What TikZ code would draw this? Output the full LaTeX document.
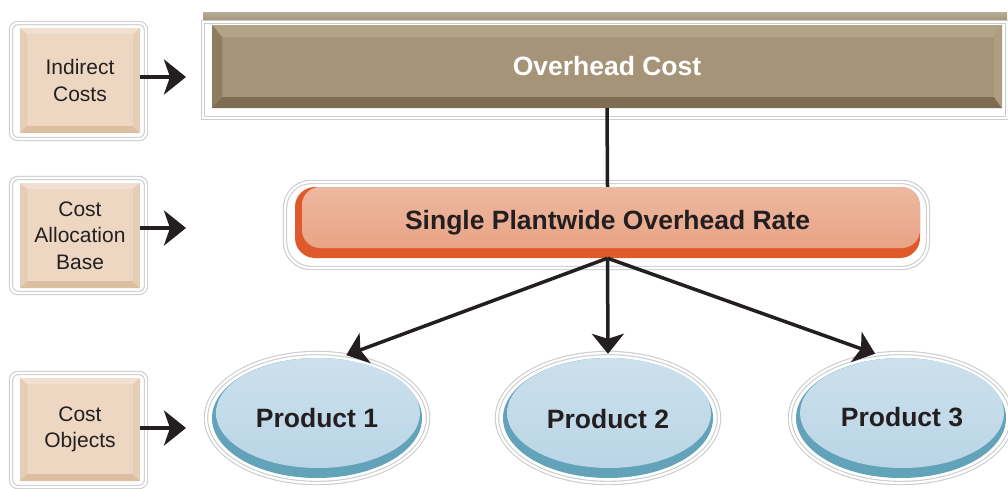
\documentclass[tikz,border=0pt]{standalone}
\usepackage{fontspec}
\setmainfont{Liberation Sans}
\usetikzlibrary{arrows.meta,shapes.geometric}
\definecolor{framegray}{HTML}{CBCCCE}
\definecolor{beigeface}{HTML}{EDD7C2}
\definecolor{beigelight}{HTML}{F1E0CF}
\definecolor{beigedark}{HTML}{DCBEA1}
\definecolor{beigeside}{HTML}{E6CDB5}
\definecolor{browntopA}{HTML}{B9AD98}
\definecolor{browntopB}{HTML}{9E8E72}
\definecolor{brownface}{HTML}{A69478}
\definecolor{brownlight}{HTML}{B2A388}
\definecolor{browndark}{HTML}{7F6D52}
\definecolor{brownleft}{HTML}{8E7C60}
\definecolor{brownright}{HTML}{AE9D81}
\definecolor{salmon}{HTML}{E8A385}
\definecolor{salmonlight}{HTML}{EDB9A0}
\definecolor{rateorange}{HTML}{E0592B}
\definecolor{bluelight}{HTML}{CCE0EC}
\definecolor{blueface}{HTML}{BAD5E6}
\definecolor{tealrim}{HTML}{62A3BA}
\definecolor{ink}{HTML}{231F20}
\tikzset{
  frame/.style={draw=framegray, double=white, double distance=2.2pt, line width=1.1pt, fill=white},
  lbox/.style={rectangle, minimum width=120pt, minimum height=104pt, inner sep=0pt, align=center,
    text=ink, font=\fontsize{21}{26.5}\selectfont},
  bigtext/.style={inner sep=0pt, font=\bfseries\fontsize{26.5}{30}\selectfont},
  prod/.style={ellipse, minimum width=222pt, minimum height=130pt, inner sep=0pt, bigtext, text=ink},
  bigarrow/.style={line width=4pt, draw=ink, -{Stealth[length=22pt,width=35pt,inset=6pt]}},
  conn/.style={line width=3.5pt, draw=ink, -{Stealth[length=20pt,width=32pt,inset=5pt]}},
  plainconn/.style={line width=3.5pt, draw=ink}
}
\newcommand{\beigeface}[4]{% x1 y1 x2 y2
  \fill[beigeface] (#1,#2) rectangle (#3,#4);
  \fill[beigelight] (#1,#2) -- (#3,#2) -- ({#3-7},{#2+6}) -- ({#1+7},{#2+6}) -- cycle;
  \fill[beigeside] (#1,#2) -- ({#1+7},{#2+6}) -- ({#1+7},{#4-7}) -- (#1,#4) -- cycle;
  \fill[beigedark] (#1,#4) -- (#3,#4) -- ({#3-7},{#4-7}) -- ({#1+7},{#4-7}) -- cycle;
  \fill[beigeside] (#3,#2) -- ({#3-7},{#2+6}) -- ({#3-7},{#4-7}) -- (#3,#4) -- cycle;
}
\begin{document}
\begin{tikzpicture}[x=1pt,y=-1pt]
\useasboundingbox (0,0) rectangle (1008,488);
\fill[white] (0,0) rectangle (1008,488);

% ---------- left boxes ----------
\draw[frame, rounded corners=7pt] (11,23) rectangle (146,139);
\beigeface{20}{28}{140}{133}
\node[lbox] (ic) at (80,80.5) {Indirect\\Costs};

\draw[frame, rounded corners=7pt] (11,178) rectangle (146,293);
\beigeface{20}{183}{140}{288}
\node[lbox] (cab) at (80,235.5) {Cost\\Allocation\\Base};

\draw[frame, rounded corners=7pt] (11,373) rectangle (146,487);
\beigeface{20}{378}{140}{481}
\node[lbox] (co) at (80,429.5) {Cost\\Objects};

% ---------- overhead cost ----------
\shade[top color=browntopA, bottom color=browntopB] (203,12) rectangle (1007,22);
\draw[frame] (203,22) rectangle (1007,118);
\fill[brownface] (212,25) rectangle (1002,108);
\fill[brownlight] (212,25) -- (1002,25) -- (994,37) -- (222,37) -- cycle;
\fill[browndark] (212,108) -- (1002,108) -- (994,97) -- (222,97) -- cycle;
\fill[brownleft] (212,25) -- (222,37) -- (222,97) -- (212,108) -- cycle;
\fill[brownright] (1002,25) -- (994,37) -- (994,97) -- (1002,108) -- cycle;
\node[bigtext, text=white, rectangle, minimum width=790pt, minimum height=83pt] (oc) at (607,66.5) {Overhead Cost};

% ---------- rate ----------
\draw[frame, rounded corners=26pt] (285,182) rectangle (928,268);
\fill[rateorange, rounded corners=20pt] (295,187) rectangle (920,258);
\shade[top color=salmonlight, bottom color=salmon, rounded corners=18pt] (302,187) rectangle (920,248);
\node[bigtext, text=ink, rectangle, minimum width=625pt, minimum height=71pt] (rate) at (607.5,222.5) {Single Plantwide Overhead Rate};

% ---------- products ----------
\draw[frame] (317,418) ellipse [x radius=111pt, y radius=65pt];
\fill[tealrim] (317,418) ellipse [x radius=105pt, y radius=60pt];
\shade[top color=bluelight, bottom color=blueface] (318,413) ellipse [x radius=102pt, y radius=55pt];
\node[prod] (p1) at (317,418) {Product 1};

\draw[frame] (608,418) ellipse [x radius=111pt, y radius=65pt];
\fill[tealrim] (608,418) ellipse [x radius=105pt, y radius=60pt];
\shade[top color=bluelight, bottom color=blueface] (609,413) ellipse [x radius=102pt, y radius=55pt];
\node[prod] (p2) at (608,419) {Product 2};

\draw[frame] (901,418) ellipse [x radius=111pt, y radius=65pt];
\fill[tealrim] (901,418) ellipse [x radius=105pt, y radius=60pt];
\shade[top color=bluelight, bottom color=blueface] (902,413) ellipse [x radius=102pt, y radius=55pt];
\node[prod] (p3) at (902,417) {Product 3};

% ---------- connectors ----------
\coordinate (ta) at (186,77);
\coordinate (tb) at (186,228);
\coordinate (tc) at (186,428);
\draw[bigarrow] (ic.east |- ta) -- (ta);
\draw[bigarrow] (cab.east |- tb) -- (tb);
\draw[bigarrow] (co.east |- tc) -- (tc);

\draw[plainconn] (oc.south) -- (rate.north);
\draw[conn] (rate.south) -- (p1.65);
\draw[conn] (rate.south) -- (p2.north);
\draw[conn] (rate.south) -- (p3.113);
\end{tikzpicture}
\end{document}
